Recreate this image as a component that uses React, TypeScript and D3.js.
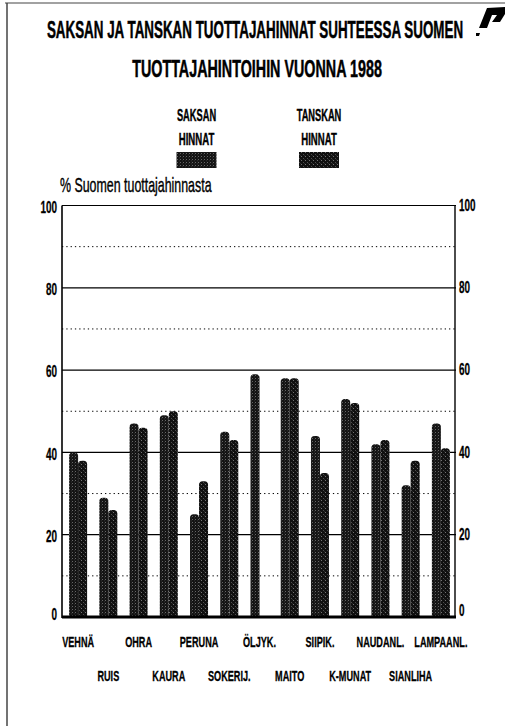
import React from "react";
import * as d3 from "d3";

const categories = ["VEHNÄ", "RUIS", "OHRA", "KAURA", "PERUNA", "SOKERIJ.", "ÖLJYK.", "MAITO", "SIIPIK.", "K-MUNAT", "NAUDANL.", "SIANLIHA", "LAMPAANL."];
const seriesNames = ["SAKSAN HINNAT", "TANSKAN HINNAT"];
const saksan: (number | null)[] = [40, 29, 47, 49, 25, 45, 59, 58, 44, 53, 42, 32, 47];
const tanskan: (number | null)[] = [38, 26, 46, 50, 33, 43, null, 58, 35, 52, 43, 38, 41];
const majorTicks = [0, 20, 40, 60, 80, 100];
const minorTicks = [10, 30, 50, 70, 90];
const titleLines = ["SAKSAN JA TANSKAN TUOTTAJAHINNAT SUHTEESSA SUOMEN", "TUOTTAJAHINTOIHIN VUONNA 1988"];
const yAxisTitle = "% Suomen tuottajahinnasta";

const FONT = "'Liberation Sans', Arial, sans-serif";

function barPath(x: number, y: number, w: number, h: number, r: number) {
  const rr = Math.min(r, w / 2, h);
  return `M${x},${y + h}V${y + rr}Q${x},${y} ${x + rr},${y}H${x + w - rr}Q${x + w},${y} ${x + w},${y + rr}V${y + h}Z`;
}

function CText(props: { x: number; y: number; sx: number; size: number; anchor?: string; bold?: boolean; baseline?: string; heavy?: number; children: React.ReactNode }) {
  const { x, y, sx, size, anchor = "start", bold = true, baseline, heavy = 0, children } = props;
  return (
    <text
      transform={`translate(${x},${y}) scale(${sx},1)`}
      textAnchor={anchor}
      fontSize={size}
      fontWeight={bold ? "bold" : "normal"}
      dominantBaseline={baseline}
      stroke={heavy > 0 ? "#000" : undefined}
      strokeWidth={heavy > 0 ? heavy : undefined}
      fill="#000"
    >
      {children}
    </text>
  );
}

export default function App() {
  const W = 505, H = 726;
  const left = 62, right = 456, top = 205.5, bottom = 617;
  const x = d3.scaleBand<string>().domain(categories).range([left + 1, right]).padding(0);
  const bw = x.bandwidth();
  const pair = 18;
  const xs = d3.scaleBand<string>().domain(seriesNames).range([(bw - pair) / 2, (bw + pair) / 2]).padding(0);
  const y = d3.scaleLinear().domain([0, 100]).range([bottom, top]);
  const series = [saksan, tanskan];
  const patterns = ["patA", "patB"];

  return (
    <svg width={W} height={H} style={{ position: "absolute", left: 0, top: 0, background: "#fff" }} fontFamily={FONT}>
      <defs>
        <pattern id="patA" width="3" height="3" patternUnits="userSpaceOnUse">
          <rect width="3" height="3" fill="#141414" />
          <rect x="0" y="0" width="0.9" height="0.9" fill="#7a7a7a" />
          <rect x="2" y="1.5" width="0.7" height="0.7" fill="#4a4a4a" />
        </pattern>
        <pattern id="patB" width="4" height="4" patternUnits="userSpaceOnUse">
          <rect width="4" height="4" fill="#101010" />
          <rect x="1" y="0" width="0.9" height="0.9" fill="#8a8a8a" />
          <rect x="3" y="2" width="0.9" height="0.9" fill="#5a5a5a" />
          <rect x="0" y="3" width="0.7" height="0.7" fill="#444" />
        </pattern>
      </defs>

      {/* page frame */}
      <line x1={5} y1={3} x2={505} y2={3} stroke="#444" strokeWidth={1.2} />
      <line x1={7} y1={3} x2={7} y2={726} stroke="#444" strokeWidth={1.5} />

      {/* logo */}
      <path d="M487,8 L505,7 L505,14 L500,22 L492,22 L497,15 L492,15 L487,28 L479,28 Z" fill="#000" />
      <path d="M476,33 L480,33 L479,36 L476,36 Z" fill="#000" />

      {/* titles */}
      <CText x={255} y={38} sx={0.57} size={23.5} anchor="middle" heavy={0.5}>{titleLines[0]}</CText>
      <CText x={257} y={77} sx={0.61} size={23.5} anchor="middle" heavy={0.5}>{titleLines[1]}</CText>

      {/* legend */}
      {seriesNames.map((s, i) => {
        const cx = i === 0 ? 196.5 : 319;
        const [l1, l2] = s.split(" ");
        return (
          <g key={s}>
            <CText x={cx} y={121} sx={0.58} size={16} anchor="middle" heavy={0.4}>{l1}</CText>
            <CText x={cx} y={145} sx={0.6} size={16} anchor="middle" heavy={0.4}>{l2}</CText>
            <rect x={cx - 20} y={152} width={40} height={16} fill={`url(#${patterns[i]})`} />
          </g>
        );
      })}

      {/* y-axis title */}
      <CText x={60} y={192} sx={0.62} size={20} bold={false} heavy={0.4}>{yAxisTitle}</CText>

      {/* grid */}
      {minorTicks.map((t) => (
        <line key={"m" + t} x1={left} x2={right} y1={y(t)} y2={y(t)} stroke="#000" strokeWidth={1} strokeDasharray="1.3,3" />
      ))}
      {majorTicks.filter((t) => t > 0).map((t) => (
        <line key={"M" + t} x1={left} x2={right} y1={y(t)} y2={y(t)} stroke="#000" strokeWidth={1.2} />
      ))}

      {/* bars */}
      {categories.map((c, i) => (
        <g key={c}>
          {series.map((vals, si) => {
            const v = vals[i];
            if (v == null) return null;
            const bx = (x(c) as number) + (xs(seriesNames[si]) as number);
            const by = y(v);
            return <path key={si} d={barPath(bx, by, xs.bandwidth(), bottom - by, 3.5)} fill={`url(#${patterns[si]})`} />;
          })}
        </g>
      ))}

      {/* axes */}
      <line x1={left} x2={left} y1={top} y2={bottom + 1} stroke="#000" strokeWidth={1.6} />
      <line x1={right - 1} x2={right - 1} y1={top} y2={bottom + 1} stroke="#000" strokeWidth={1.4} />
      <line x1={left} x2={right} y1={bottom} y2={bottom} stroke="#000" strokeWidth={3} />

      {/* tick labels */}
      {majorTicks.map((t) => (
        <g key={"tl" + t}>
          <CText x={57} y={y(t) + (t === 0 ? -1 : 3)} sx={0.62} size={16} anchor="end" baseline="middle" heavy={0.3}>{t}</CText>
          <CText x={459} y={y(t) + (t === 0 ? -5 : 1)} sx={0.62} size={16} anchor="start" baseline="middle" heavy={0.3}>{t}</CText>
        </g>
      ))}

      {/* category labels */}
      {categories.map((c, i) => (
        <CText key={"cl" + c} x={(x(c) as number) + bw / 2} y={i % 2 === 0 ? 647 : 681} sx={0.63} size={14.5} anchor="middle" heavy={0.3}>{c}</CText>
      ))}
    </svg>
  );
}
